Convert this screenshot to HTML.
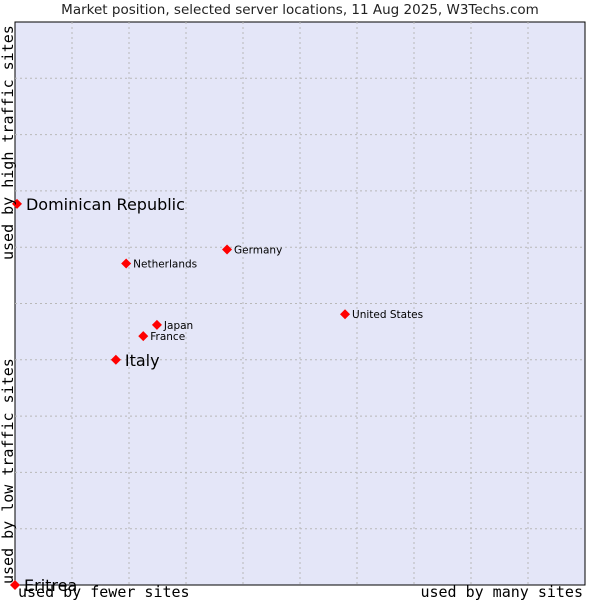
<!DOCTYPE html>
<html><head><meta charset="utf-8"><style>
body{margin:0;background:#fff;}
svg text{font-family:"DejaVu Sans","Liberation Sans",sans-serif;}
.mono{font-family:"DejaVu Sans Mono","Liberation Mono",monospace !important;font-size:15px;}
</style></head><body>
<svg id="chart" width="600" height="600" xmlns="http://www.w3.org/2000/svg">
<text x="300" y="14" text-anchor="middle" font-size="13.5" fill="#222">Market position, selected server locations, 11 Aug 2025, W3Techs.com</text>
<rect x="15" y="22" width="570" height="563" fill="#e4e6f8" stroke="#000" stroke-width="1"/>
<g id="grid"></g>
<g id="points"></g>
<text class="mono" x="18" y="597">used by fewer sites</text>
<text class="mono" x="583" y="597" text-anchor="end">used by many sites</text>
<text class="mono" transform="translate(13,584) rotate(-90)">used by low traffic sites</text>
<text class="mono" transform="translate(13,260) rotate(-90)">used by high traffic sites</text>
</svg>
<script>
const countries=["Dominican Republic","Italy","Eritrea","Netherlands","Germany","Japan","France","United States"];
const xValues=[0.35,17.7,0,19.5,37.2,24.9,22.5,57.9];
const yValues=[67.7,40,0,57.1,59.6,46.2,44.2,48.1];
const bigLabel=[true,true,true,false,false,false,false,false];
const L=15,T=22,W=570,H=563;
const sx=v=>L+v/100*W, sy=v=>T+H-v/100*H;
const NS="http://www.w3.org/2000/svg";
const grid=document.getElementById('grid');
for(let i=1;i<10;i++){
 const v=document.createElementNS(NS,'line');
 
 
 v.setAttribute('x1',sx(i*10));v.setAttribute('x2',sx(i*10));v.setAttribute('y1',T);v.setAttribute('y2',T+H);
 v.setAttribute('stroke','#b8b8b8');v.setAttribute('stroke-dasharray','2,3');grid.appendChild(v);
 const h=document.createElementNS(NS,'line');
 
 
 h.setAttribute('y1',sy(i*10));h.setAttribute('y2',sy(i*10));h.setAttribute('x1',L);h.setAttribute('x2',L+W);
 h.setAttribute('stroke','#b8b8b8');h.setAttribute('stroke-dasharray','2,3');grid.appendChild(h);
}
const pts=document.getElementById('points');
countries.forEach((c,i)=>{
 const x=sx(xValues[i]),y=sy(yValues[i]);
 const m=document.createElementNS(NS,'polygon');
 
 
 m.setAttribute('points',`${x},${y-5} ${x+5},${y} ${x},${y+5} ${x-5},${y}`);
 m.setAttribute('fill','#f00');pts.appendChild(m);
 const t=document.createElementNS(NS,'text');
 
 
 t.setAttribute('x',x+(bigLabel[i]?9:7));t.setAttribute('y',y+(bigLabel[i]?6:4));
 t.setAttribute('font-size',bigLabel[i]?16:10.5);t.setAttribute('fill','#000');
 t.textContent=c;pts.appendChild(t);
});
</script>
</body></html>
